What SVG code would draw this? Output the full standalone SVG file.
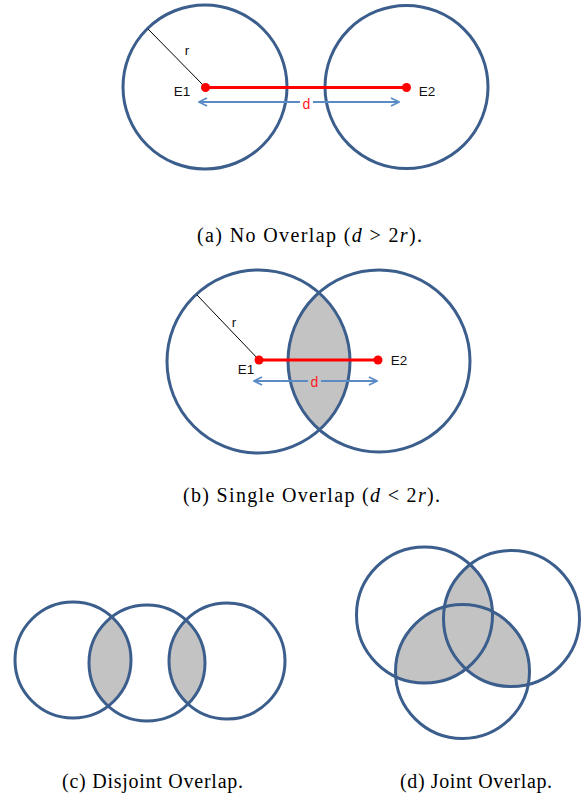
<svg xmlns="http://www.w3.org/2000/svg" width="582" height="802" viewBox="0 0 582 802">
<style>
.c{fill:none;stroke:#3B5E8C;stroke-width:3}
.sh{fill:#C3C3C3;stroke:none}
.lbl{font-family:"Liberation Sans",Arial,sans-serif;font-size:13.5px;fill:#111}
.dl{font-family:"Liberation Sans",Arial,sans-serif;font-size:14px;fill:#FF1A1A}
.cap{font-family:"Liberation Serif","Times New Roman",serif;font-size:20px;fill:#000;white-space:pre}
.red{stroke:#FF0000;stroke-width:3}
.arr{stroke:#5B8BC5;stroke-width:2;fill:none}
</style>
<defs>
<marker id="ah" viewBox="0 0 10 10" refX="9" refY="5" markerWidth="10" markerHeight="10" markerUnits="userSpaceOnUse" orient="auto-start-reverse">
<polyline points="1,1 9,5 1,9" fill="none" stroke="#5B8BC5" stroke-width="1.8"/>
</marker>
<clipPath id="cb2"><circle cx="379" cy="361" r="91"/></clipPath>
<clipPath id="cc1"><circle cx="73" cy="660" r="58"/></clipPath>
<clipPath id="cc3"><circle cx="227" cy="661" r="58"/></clipPath>
<clipPath id="cdB"><circle cx="511.5" cy="618.5" r="68"/></clipPath>
<clipPath id="cdC"><circle cx="462.5" cy="671.5" r="67"/></clipPath>
</defs>

<g id="diagram-a">
<circle class="c" cx="205" cy="87" r="82"/>
<circle class="c" cx="406.5" cy="87" r="81.5"/>
<line x1="148" y1="29" x2="205" y2="87" stroke="#000" stroke-width="1"/>
<text class="lbl" x="187" y="55" text-anchor="middle">r</text>
<line class="red" x1="205" y1="87.5" x2="406.5" y2="87.5"/>
<circle cx="205.5" cy="87.5" r="4.5" fill="#FF0000"/>
<circle cx="406.5" cy="87.5" r="4.5" fill="#FF0000"/>
<text class="lbl" x="182" y="96" text-anchor="middle">E1</text>
<text class="lbl" x="427" y="96" text-anchor="middle">E2</text>
<line class="arr" x1="199" y1="102" x2="399" y2="102" marker-start="url(#ah)" marker-end="url(#ah)"/>
<rect x="300" y="95" width="13" height="15" fill="#fff"/>
<text class="dl" x="306.5" y="109" text-anchor="middle">d</text>
</g>
<text class="cap" x="197" y="242" textLength="225" lengthAdjust="spacing">(a) No Overlap (<tspan font-style="italic">d</tspan> &gt; 2<tspan font-style="italic">r</tspan>).</text>

<g id="diagram-b">
<circle class="sh" cx="258.5" cy="361.5" r="91.5" clip-path="url(#cb2)"/>
<circle class="c" cx="258.5" cy="361.5" r="91.5"/>
<circle class="c" cx="379" cy="361" r="91"/>
<line x1="197" y1="295" x2="259" y2="360" stroke="#000" stroke-width="1"/>
<text class="lbl" x="234" y="327" text-anchor="middle">r</text>
<line class="red" x1="259" y1="360" x2="378" y2="360"/>
<circle cx="259" cy="360" r="4.5" fill="#FF0000"/>
<circle cx="378" cy="360" r="4.5" fill="#FF0000"/>
<text class="lbl" x="246" y="374" text-anchor="middle">E1</text>
<text class="lbl" x="399" y="365" text-anchor="middle">E2</text>
<line class="arr" x1="254" y1="381" x2="377" y2="381" marker-start="url(#ah)" marker-end="url(#ah)"/>
<rect x="308" y="374" width="13" height="15" fill="#C3C3C3"/>
<text class="dl" x="314.5" y="387" text-anchor="middle">d</text>
</g>
<text class="cap" x="183" y="502" textLength="257" lengthAdjust="spacing">(b) Single Overlap (<tspan font-style="italic">d</tspan> &lt; 2<tspan font-style="italic">r</tspan>).</text>

<g id="diagram-c">
<circle class="sh" cx="147" cy="663" r="58" clip-path="url(#cc1)"/>
<circle class="sh" cx="147" cy="663" r="58" clip-path="url(#cc3)"/>
<circle class="c" cx="73" cy="660" r="58"/>
<circle class="c" cx="147" cy="663" r="58"/>
<circle class="c" cx="227" cy="661" r="58"/>
</g>
<text class="cap" x="62" y="788" textLength="181" lengthAdjust="spacing">(c) Disjoint Overlap.</text>

<g id="diagram-d">
<circle class="sh" cx="424.5" cy="615" r="68" clip-path="url(#cdB)"/>
<circle class="sh" cx="424.5" cy="615" r="68" clip-path="url(#cdC)"/>
<circle class="sh" cx="511.5" cy="618.5" r="68" clip-path="url(#cdC)"/>
<circle class="c" cx="424.5" cy="615" r="68"/>
<circle class="c" cx="511.5" cy="618.5" r="68"/>
<circle class="c" cx="462.5" cy="671.5" r="67"/>
</g>
<text class="cap" x="400" y="788" textLength="152" lengthAdjust="spacing">(d) Joint Overlap.</text>
</svg>
